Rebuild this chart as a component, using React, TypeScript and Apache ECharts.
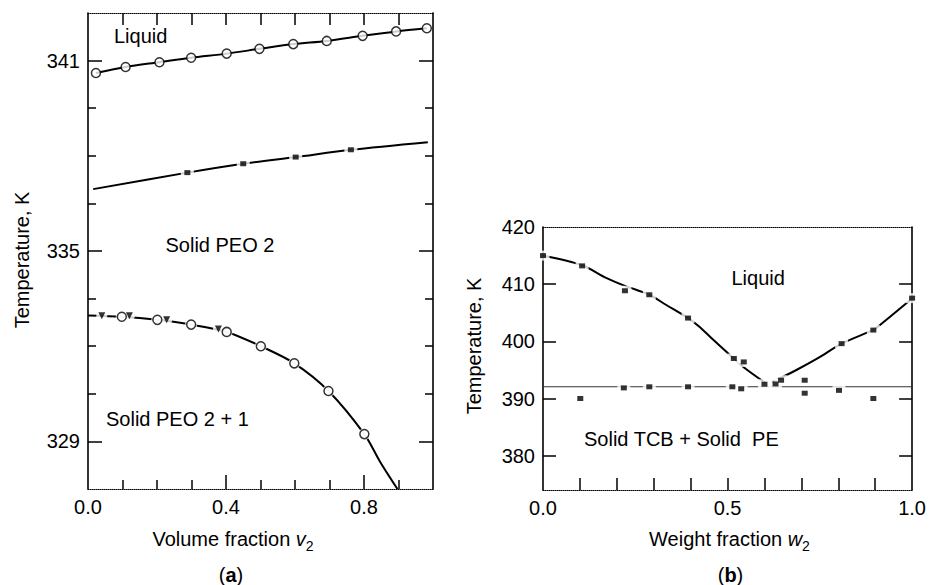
import React, { useEffect, useRef } from "react";
import * as echarts from "echarts";

const FONT = '"Liberation Sans", Arial, Helvetica, sans-serif';

// ---------- Panel (a): PEO fractions, temperature (K) vs volume fraction v2 ----------
const liquidusPoints: [number, number][] = [
  [0.023, 340.61], [0.109, 340.8], [0.207, 340.95], [0.299, 341.09], [0.402, 341.22],
  [0.497, 341.37], [0.595, 341.52], [0.692, 341.62], [0.796, 341.78], [0.893, 341.92],
  [0.982, 342.02],
];
const transitionCurve: [number, number][] = [
  [0.015, 336.95], [0.288, 337.47], [0.45, 337.75], [0.602, 337.96], [0.762, 338.19], [0.985, 338.43],
];
const transitionSquares: [number, number][] = [
  [0.288, 337.47], [0.45, 337.75], [0.602, 337.96], [0.762, 338.19],
];
const solidusCurve: [number, number][] = [
  [0.0, 332.97], [0.098, 332.93], [0.201, 332.83], [0.299, 332.68], [0.402, 332.45],
  [0.501, 332.0], [0.598, 331.46], [0.697, 330.59], [0.801, 329.23], [0.846, 328.37], [0.897, 327.5],
];
const solidusCircles: [number, number][] = [
  [0.098, 332.93], [0.201, 332.83], [0.299, 332.68], [0.402, 332.45],
  [0.501, 332.0], [0.598, 331.46], [0.697, 330.59], [0.801, 329.23],
];
const solidusTriangles: [number, number][] = [
  [0.04, 332.96], [0.12, 332.96], [0.228, 332.83], [0.378, 332.54],
];

const aXRange = [0, 1];
const aYRange = [327.5, 342.5];
const aXLabels = [0, 0.4, 0.8];
const aXMajorTicks = [0.4, 0.8];
const aXMinorTicks = [0.1, 0.2, 0.3, 0.5, 0.6, 0.7, 0.9];
const aXTopTicks = [0.1, 0.2, 0.3, 0.4, 0.5, 0.6, 0.7, 0.8, 0.9];
const aYLabels = [329, 335, 341];
const aYMinorTicks = [330.5, 332, 333.5, 336.5, 338, 339.5];

// ---------- Panel (b): TCB / PE, temperature (K) vs weight fraction w2 ----------
const liquidusLeft: [number, number][] = [
  [0.0, 415.0], [0.106, 413.3], [0.171, 411.1], [0.222, 409.7], [0.288, 408.15], [0.333, 406.4],
  [0.393, 404.07], [0.423, 402.6], [0.459, 400.4], [0.517, 397.0], [0.549, 395.2], [0.603, 392.7],
];
const liquidusRight: [number, number][] = [
  [0.62, 392.85], [0.684, 394.9], [0.746, 397.1], [0.809, 399.6], [0.895, 402.0], [0.908, 402.6], [1.0, 407.5],
];
const liquidusSquares: [number, number][] = [
  [0.0, 415.0], [0.106, 413.2], [0.222, 408.85], [0.288, 408.15], [0.393, 404.07], [0.517, 397.0],
  [0.544, 396.4], [0.6, 392.5], [0.63, 392.55], [0.645, 393.2], [0.809, 399.6], [0.895, 401.97], [1.0, 407.56],
];
const eutecticSquares: [number, number][] = [
  [0.101, 390.0], [0.219, 391.86], [0.288, 392.05], [0.393, 392.05], [0.513, 392.05],
  [0.537, 391.7], [0.709, 393.2], [0.709, 390.93], [0.802, 391.43], [0.895, 390.0],
];
const eutecticT = 392.05;

const bXRange = [0, 1];
const bYRange = [374, 420];
const bXLabels = [0, 0.5, 1.0];
const bXTicks = [0.1, 0.2, 0.3, 0.4, 0.5, 0.6, 0.7, 0.8, 0.9];
const bYLabels = [380, 390, 400, 410, 420];
const bYTicks = [380, 390, 400, 410];

const black = "#000";
const labelStyle = { fontSize: 20, color: black, fontFamily: FONT };

// One axis layer: an optional frame line, optional inward ticks, optional labels.
function axis(opts: {
  grid: number;
  range: number[];
  position: string;
  line?: "solid" | "dotted" | "none";
  ticks?: number[];
  tickLen?: number;
  labels?: number[];
  digits?: number;
}) {
  const { grid, range, position, line = "none", ticks, tickLen = 10, labels, digits = 0 } = opts;
  return {
    type: "value",
    gridIndex: grid,
    position,
    min: range[0],
    max: range[1],
    axisLine: {
      show: line !== "none",
      onZero: false,
      lineStyle: {
        color: black,
        width: line === "dotted" ? 1 : 1.6,
        type: line === "dotted" ? [1, 1] : "solid",
      },
    },
    axisTick: ticks
      ? {
          show: true,
          inside: true,
          length: tickLen,
          customValues: ticks,
          lineStyle: { color: black, width: 1.5 },
        }
      : { show: false },
    axisLabel: labels
      ? {
          show: true,
          customValues: labels,
          margin: 8,
          formatter: (v: number) => v.toFixed(digits),
          ...labelStyle,
        }
      : { show: false },
    splitLine: { show: false },
  };
}

function curve(data: [number, number][], xi: number, yi: number, width = 2) {
  return {
    type: "line",
    data,
    xAxisIndex: xi,
    yAxisIndex: yi,
    smooth: 0.3,
    symbol: "none",
    lineStyle: { color: black, width },
    z: 2,
    silent: true,
  };
}

function halo(data: [number, number][], xi: number, yi: number, symbol: string, size: number | number[], rotate = 0) {
  return {
    type: "scatter",
    data,
    xAxisIndex: xi,
    yAxisIndex: yi,
    symbol,
    symbolSize: size,
    symbolRotate: rotate,
    itemStyle: { color: "#fff" },
    z: 3,
    silent: true,
  };
}

function marks(data: [number, number][], xi: number, yi: number, symbol: string, size: number | number[], open = false, rotate = 0) {
  return {
    type: "scatter",
    data,
    xAxisIndex: xi,
    yAxisIndex: yi,
    symbol,
    symbolSize: size,
    symbolRotate: rotate,
    itemStyle: open
      ? { color: "#fff", borderColor: black, borderWidth: 1.5 }
      : { color: black },
    z: 4,
    silent: true,
  };
}

function text(x: number, y: number, content: string, align = "left", extra: any = {}) {
  return {
    type: "text",
    x,
    y,
    silent: true,
    style: {
      text: content,
      fontSize: 20,
      fontFamily: FONT,
      fill: black,
      align,
      verticalAlign: "middle",
      ...extra,
    },
  };
}

function xTitle(cx: number, y: number, word: string, sym: string) {
  return text(cx, y, `{n|${word} }{v|${sym}}{s|2}`, "center", {
    rich: {
      n: { fontSize: 20, fontFamily: FONT, fill: black },
      v: { fontSize: 20, fontFamily: FONT, fontStyle: "italic", fill: black },
      s: { fontSize: 14, fontFamily: FONT, fill: black, padding: [13, 0, 0, 0] },
    },
  });
}

function panelTag(cx: number, y: number, letter: string) {
  return text(cx, y, `{p|(}{b|${letter}}{p|)}`, "center", {
    rich: {
      p: { fontSize: 20, fontFamily: FONT, fill: black },
      b: { fontSize: 20, fontFamily: FONT, fontWeight: "bold", fill: black },
    },
  });
}

function yTitle(x: number, y: number) {
  return {
    type: "text",
    x,
    y,
    rotation: Math.PI / 2,
    silent: true,
    style: {
      text: "Temperature, K",
      fontSize: 20,
      fontFamily: FONT,
      fill: black,
      align: "center",
      verticalAlign: "middle",
    },
  };
}

export default function App() {
  const ref = useRef<HTMLDivElement>(null);

  useEffect(() => {
    if (!ref.current) return;
    const chart = echarts.init(ref.current, null, { renderer: "svg" });

    const option: any = {
      animation: false,
      backgroundColor: "#fff",
      grid: [
        { left: 88, top: 13, width: 345, height: 476 },
        { left: 543, top: 227, width: 371, height: 263 },
      ],
      xAxis: [
        // panel (a)
        axis({ grid: 0, range: aXRange, position: "bottom", line: "dotted", ticks: aXMajorTicks, tickLen: 14 }),
        axis({ grid: 0, range: aXRange, position: "bottom", ticks: aXMinorTicks, tickLen: 9 }),
        axis({ grid: 0, range: aXRange, position: "top", line: "dotted", ticks: aXTopTicks, tickLen: 12 }),
        axis({ grid: 0, range: aXRange, position: "bottom", labels: aXLabels, digits: 1 }),
        // panel (b)
        axis({ grid: 1, range: bXRange, position: "bottom", line: "dotted", ticks: bXTicks, tickLen: 12 }),
        axis({ grid: 1, range: bXRange, position: "top", line: "dotted" }),
        axis({ grid: 1, range: bXRange, position: "bottom", labels: bXLabels, digits: 1 }),
      ],
      yAxis: [
        // panel (a)
        axis({ grid: 0, range: aYRange, position: "left", line: "solid", ticks: aYLabels, tickLen: 14 }),
        axis({ grid: 0, range: aYRange, position: "left", ticks: aYMinorTicks, tickLen: 8 }),
        axis({ grid: 0, range: aYRange, position: "right", line: "solid", ticks: aYLabels, tickLen: 14 }),
        axis({ grid: 0, range: aYRange, position: "right", ticks: aYMinorTicks, tickLen: 8 }),
        axis({ grid: 0, range: aYRange, position: "left", labels: aYLabels }),
        // panel (b)
        axis({ grid: 1, range: bYRange, position: "left", line: "solid", ticks: bYTicks, tickLen: 13 }),
        axis({ grid: 1, range: bYRange, position: "right", line: "solid", ticks: bYTicks, tickLen: 13 }),
        axis({ grid: 1, range: bYRange, position: "left", labels: bYLabels }),
      ],
      series: [
        // panel (a)
        curve(liquidusPoints, 0, 0),
        marks(liquidusPoints, 0, 0, "circle", 9, true),
        curve(transitionCurve, 0, 0),
        halo(transitionSquares, 0, 0, "rect", [13, 10]),
        marks(transitionSquares, 0, 0, "rect", [6, 5]),
        curve(solidusCurve, 0, 0),
        halo(solidusCircles, 0, 0, "circle", 12),
        halo(solidusTriangles, 0, 0, "circle", 11),
        marks(solidusCircles, 0, 0, "circle", 9, true),
        marks(solidusTriangles, 0, 0, "triangle", 7, false, 180),
        // panel (b)
        {
          type: "line",
          data: [[bXRange[0], eutecticT], [bXRange[1], eutecticT]],
          xAxisIndex: 4,
          yAxisIndex: 5,
          symbol: "none",
          lineStyle: { color: "#333", width: 1.1 },
          z: 2,
          silent: true,
        },
        curve(liquidusLeft, 4, 5),
        curve(liquidusRight, 4, 5),
        halo(liquidusSquares, 4, 5, "rect", [13, 10]),
        halo(eutecticSquares, 4, 5, "rect", [13, 10]),
        marks(liquidusSquares, 4, 5, "rect", [6, 5]),
        marks(eutecticSquares, 4, 5, "rect", [6, 5]),
      ],
      graphic: [
        // panel (a)
        text(114, 36, "Liquid"),
        text(165.5, 245, "Solid PEO 2"),
        text(106, 419, "Solid PEO 2 + 1"),
        yTitle(21.5, 260),
        xTitle(233, 539, "Volume fraction", "v"),
        panelTag(231, 575, "a"),
        // panel (b)
        text(731.5, 278, "Liquid"),
        text(584, 438.5, "Solid TCB + Solid  PE"),
        yTitle(474, 346),
        xTitle(729.5, 539, "Weight fraction", "w"),
        panelTag(730.5, 575, "b"),
      ],
    };

    chart.setOption(option);
    return () => chart.dispose();
  }, []);

  return (
    <div
      ref={ref}
      style={{ position: "fixed", left: 0, top: 0, width: 929, height: 585, background: "#fff" }}
    />
  );
}
